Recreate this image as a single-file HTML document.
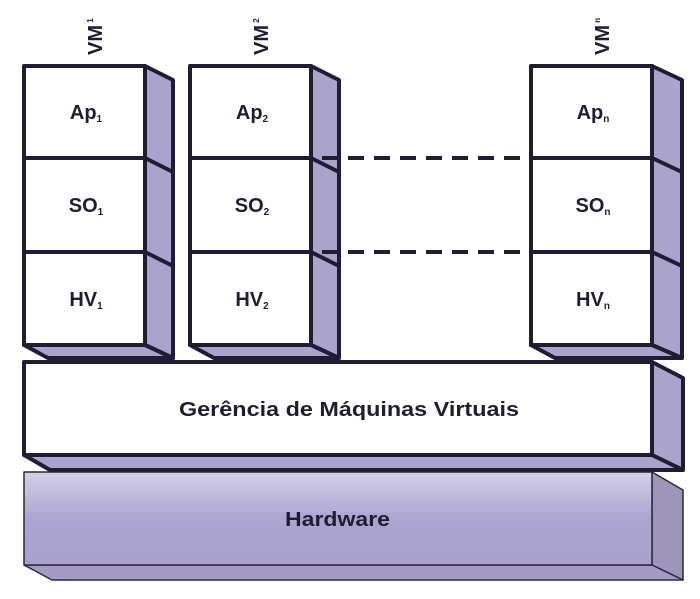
<!DOCTYPE html>
<html><head><meta charset="utf-8"><style>
html,body{margin:0;padding:0;background:#fff;width:700px;height:599px;overflow:hidden}
text{font-family:"Liberation Sans",sans-serif;font-weight:bold;fill:#1f1d33}
</style></head><body>
<svg width="700" height="599" viewBox="0 0 700 599" xmlns="http://www.w3.org/2000/svg">
<defs>
<linearGradient id="hw" x1="0" y1="0" x2="0" y2="1">
<stop offset="0" stop-color="#d4d0e6"/><stop offset="0.5" stop-color="#aba4cf"/><stop offset="1" stop-color="#a9a2cc"/>
</linearGradient>
</defs>
<g stroke="#1f1d33" stroke-width="4" stroke-linejoin="round">
<g>
<polygon points="145,66 173,80 173,358 145,345" fill="#aaa4cc"/>
<polygon points="24,345 48,358 173,358 145,345" fill="#aaa4cc"/>
<line x1="145" y1="158" x2="173" y2="172"/>
<line x1="145" y1="252" x2="173" y2="266"/>
<rect x="24" y="66" width="121" height="279" fill="#fff"/>
<line x1="24" y1="158" x2="145" y2="158"/>
<line x1="24" y1="252" x2="145" y2="252"/>
</g>
<g transform="translate(166,0)">
<polygon points="145,66 173,80 173,358 145,345" fill="#aaa4cc"/>
<polygon points="24,345 48,358 173,358 145,345" fill="#aaa4cc"/>
<line x1="145" y1="158" x2="173" y2="172"/>
<line x1="145" y1="252" x2="173" y2="266"/>
<rect x="24" y="66" width="121" height="279" fill="#fff"/>
<line x1="24" y1="158" x2="145" y2="158"/>
<line x1="24" y1="252" x2="145" y2="252"/>
</g>
<g transform="translate(507,0)">
<polygon points="145,66 175,80 175,358 145,345" fill="#aaa4cc"/>
<polygon points="24,345 48,358 175,358 145,345" fill="#aaa4cc"/>
<line x1="145" y1="158" x2="175" y2="172"/>
<line x1="145" y1="252" x2="175" y2="266"/>
<rect x="24" y="66" width="121" height="279" fill="#fff"/>
<line x1="24" y1="158" x2="145" y2="158"/>
<line x1="24" y1="252" x2="145" y2="252"/>
</g>
<line x1="322" y1="158" x2="528" y2="158" stroke-dasharray="16,10"/>
<line x1="322" y1="252" x2="528" y2="252" stroke-dasharray="16,10"/>
<polygon points="652,362 683,378 683,470 652,455" fill="#aaa4cc"/>
<polygon points="24,455 50,470 683,470 652,455" fill="#aaa4cc"/>
<rect x="24" y="362" width="628" height="93" fill="#fff"/>
</g>
<g stroke="#2a2840" stroke-width="1.5" stroke-linejoin="round">
<polygon points="652,472 683,490 683,580 652,565" fill="#9e96ba"/>
<polygon points="24,565 52,580 683,580 652,565" fill="#a39bc2"/>
<rect x="24" y="472" width="628" height="93" fill="url(#hw)"/>
</g>
<g font-size="20" text-anchor="middle">
<text x="86" y="119">Ap<tspan font-size="10" dy="3">1</tspan></text>
<text x="86" y="212">SO<tspan font-size="10" dy="3">1</tspan></text>
<text x="86" y="306">HV<tspan font-size="10" dy="3">1</tspan></text>
<text x="252" y="119">Ap<tspan font-size="10" dy="3">2</tspan></text>
<text x="252" y="212">SO<tspan font-size="10" dy="3">2</tspan></text>
<text x="252" y="306">HV<tspan font-size="10" dy="3">2</tspan></text>
<text x="593" y="119">Ap<tspan font-size="10" dy="3">n</tspan></text>
<text x="593" y="212">SO<tspan font-size="10" dy="3">n</tspan></text>
<text x="593" y="306">HV<tspan font-size="10" dy="3">n</tspan></text>
</g>
<g font-size="20">
<text x="179" y="416" textLength="340" lengthAdjust="spacingAndGlyphs">Gerência de Máquinas Virtuais</text>
<text x="285" y="526" textLength="105" lengthAdjust="spacingAndGlyphs">Hardware</text>
<text transform="translate(102,55) rotate(-90)">VM<tspan font-size="8" dy="-9"> 1</tspan></text>
<text transform="translate(268,55) rotate(-90)">VM<tspan font-size="8" dy="-9"> 2</tspan></text>
<text transform="translate(609,55) rotate(-90)">VM<tspan font-size="8" dy="-9"> n</tspan></text>
</g>
</svg>
</body></html>
